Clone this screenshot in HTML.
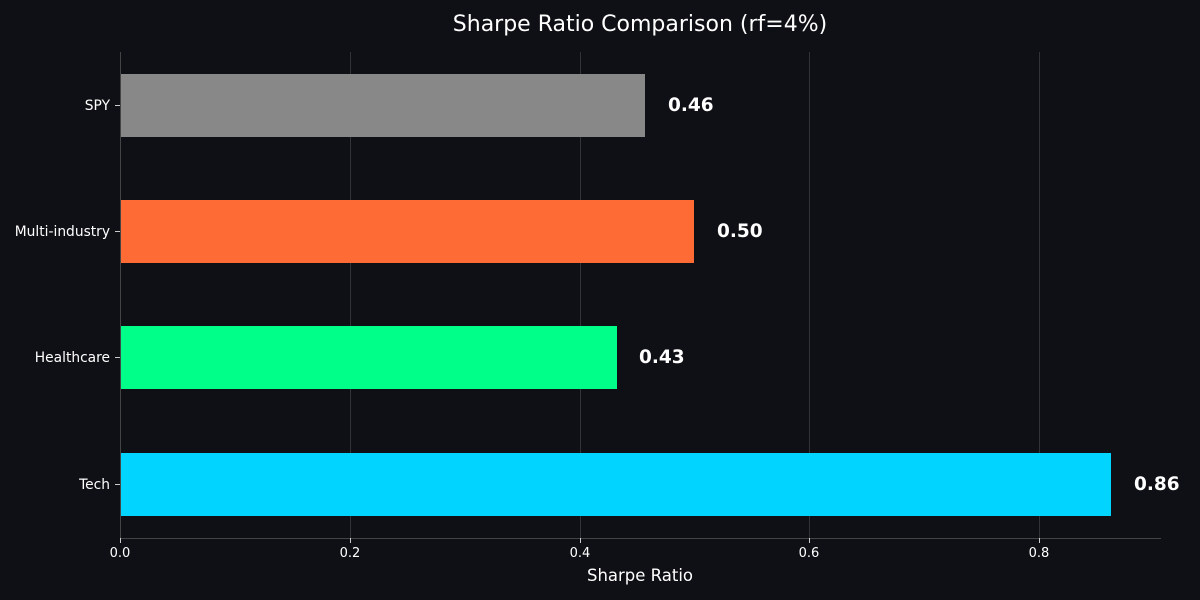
<!DOCTYPE html>
<html><head><meta charset="utf-8"><style>
html,body{margin:0;padding:0;background:#0f1015;}
svg{display:block;font-family:"DejaVu Sans","Liberation Sans",sans-serif;}
</style></head><body>
<svg width="1200" height="600" viewBox="0 0 1200 600" xmlns="http://www.w3.org/2000/svg">
<rect width="1200" height="600" fill="#0f1015"/>
<text x="640" y="31" fill="#ffffff" font-size="22" text-anchor="middle">Sharpe Ratio Comparison (rf=4%)</text>
<g stroke="#ffffff" stroke-opacity="0.15" stroke-width="1">
<line x1="120.5" y1="52" x2="120.5" y2="538"/>
<line x1="350.5" y1="52" x2="350.5" y2="538"/>
<line x1="580.5" y1="52" x2="580.5" y2="538"/>
<line x1="809.5" y1="52" x2="809.5" y2="538"/>
<line x1="1039.5" y1="52" x2="1039.5" y2="538"/>
</g>
<rect x="120" y="74" width="525" height="63" fill="#888888"/>
<rect x="120" y="200" width="574" height="63" fill="#ff6b35"/>
<rect x="120" y="326" width="497" height="63" fill="#00ff88"/>
<rect x="120" y="453" width="991" height="63" fill="#00d4ff"/>
<g fill="#ffffff" font-size="18.5" font-weight="bold">
<text x="668" y="111">0.46</text>
<text x="717" y="237">0.50</text>
<text x="639" y="363">0.43</text>
<text x="1134" y="490">0.86</text>
</g>
<g stroke="#444" stroke-width="1">
<line x1="120.5" y1="52" x2="120.5" y2="538"/>
<line x1="120" y1="538.5" x2="1161" y2="538.5"/>
</g>
<g stroke="#ccc" stroke-width="1">
<line x1="115" y1="105.5" x2="120" y2="105.5"/>
<line x1="115" y1="231.5" x2="120" y2="231.5"/>
<line x1="115" y1="357.5" x2="120" y2="357.5"/>
<line x1="115" y1="484.5" x2="120" y2="484.5"/>
<line x1="120.5" y1="538" x2="120.5" y2="543"/>
<line x1="350.5" y1="538" x2="350.5" y2="543"/>
<line x1="580.5" y1="538" x2="580.5" y2="543"/>
<line x1="809.5" y1="538" x2="809.5" y2="543"/>
<line x1="1039.5" y1="538" x2="1039.5" y2="543"/>
</g>
<g fill="#ffffff" font-size="13.8" text-anchor="end">
<text x="110" y="110">SPY</text>
<text x="110" y="236">Multi-industry</text>
<text x="110" y="362">Healthcare</text>
<text x="110" y="489">Tech</text>
</g>
<g fill="#ffffff" font-size="13" text-anchor="middle">
<text x="120" y="557">0.0</text>
<text x="350" y="557">0.2</text>
<text x="580" y="557">0.4</text>
<text x="809" y="557">0.6</text>
<text x="1039" y="557">0.8</text>
</g>
<text x="640" y="581" fill="#ffffff" font-size="16.5" text-anchor="middle">Sharpe Ratio</text>
</svg>
</body></html>
